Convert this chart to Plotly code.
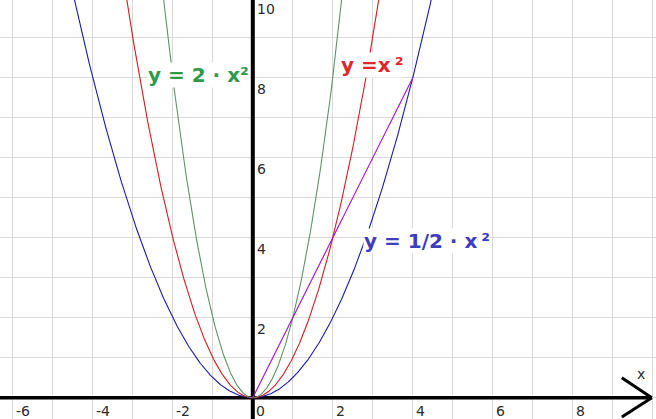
import numpy as np
import plotly.graph_objects as go

# ---- data ----
coefficients = [0.5, 1.0, 2.0]                 # y = a * x^2
curve_colors = ["#1a1aa8", "#d41c1c", "#5e9468"]
curve_labels = ["y = 1/2 \u00b7 x\u2009\u00b2", "y =x\u2009\u00b2", "y = 2 \u00b7 x\u00b2"]
label_colors = ["#3d3dbd", "#e0252b", "#2e9a49"]
label_x = [4.36, 2.98, -1.37]
label_y = [3.93, 8.33, 8.06]
secant_x = [0, 4]                              # segment y = 2x
secant_y = [0, 8]
x_ticks = [-6, -4, -2, 0, 2, 4, 6, 8]
y_ticks = [2, 4, 6, 8, 10]

X_RANGE = [-6.32, 10.08]
Y_RANGE = [-0.5325, 9.9425]
PX_PER_UNIT = 419 / (Y_RANGE[1] - Y_RANGE[0])

fig = go.Figure()
xs = np.linspace(-5, 5, 801)
for a, c in zip(coefficients, curve_colors):
    fig.add_trace(go.Scatter(x=xs, y=a * xs ** 2, mode="lines",
                             line=dict(color=c, width=1.1), hoverinfo="skip"))
fig.add_trace(go.Scatter(x=secant_x, y=secant_y, mode="lines",
                         line=dict(color="#a010d0", width=1.1), hoverinfo="skip"))

# axes drawn as shapes
fig.add_shape(type="line", x0=X_RANGE[0], x1=9.975, y0=0, y1=0,
              line=dict(color="black", width=3.5), layer="between")
fig.add_shape(type="line", x0=0, x1=0, y0=Y_RANGE[0], y1=Y_RANGE[1],
              line=dict(color="black", width=4), layer="between")
fig.add_shape(type="line", x0=9.225, y0=0.5, x1=9.975, y1=0,
              line=dict(color="black", width=3), layer="between")
fig.add_shape(type="line", x0=9.225, y0=-0.48, x1=9.975, y1=0,
              line=dict(color="black", width=3), layer="between")

tick_font = dict(family="DejaVu Sans", size=14, color="#2a2a2a")
for t in x_ticks:
    fig.add_annotation(x=t, y=0, text=str(t), showarrow=False, xanchor="left",
                       yanchor="top", xshift=1, yshift=-3, font=tick_font)
for t in y_ticks:
    ya = min(t, Y_RANGE[1])
    shift = (t - ya) * PX_PER_UNIT - 1
    fig.add_annotation(x=0, y=ya, text=str(t), showarrow=False, xanchor="left",
                       yanchor="top", xshift=2, yshift=shift, font=tick_font)
fig.add_annotation(x=9.70, y=0.59, text="x", showarrow=False, font=tick_font)

for txt, col, lx, ly in zip(curve_labels, label_colors, label_x, label_y):
    fig.add_annotation(x=lx, y=ly, text=txt, showarrow=False,
                       font=dict(family="DejaVu Sans", size=20, color=col, weight="bold"),
                       bgcolor="white", borderpad=0)

axis_common = dict(showgrid=True, gridcolor="#d9d9d9", gridwidth=1, dtick=1, tick0=0,
                   zeroline=False, showline=False, showticklabels=False, ticks="")
fig.update_layout(
    width=656, height=419, margin=dict(l=0, r=0, t=0, b=0),
    paper_bgcolor="white", plot_bgcolor="white", showlegend=False,
    xaxis=dict(range=X_RANGE, **axis_common),
    yaxis=dict(range=Y_RANGE, **axis_common),
)
fig.write_html("out.html", config={"displayModeBar": False},
               post_script="document.body.style.margin='0';document.body.style.overflow='hidden';")
